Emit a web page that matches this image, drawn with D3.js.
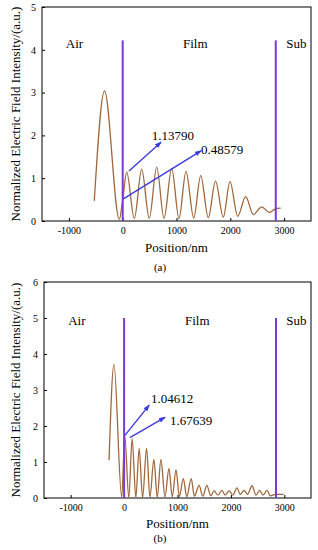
<!DOCTYPE html>
<html>
<head>
<meta charset="utf-8">
<script src="https://cdn.jsdelivr.net/npm/d3@7"></script>
<style>
  body { margin: 0; background: #fff; }
  text { font-family: "Liberation Serif", "Times New Roman", serif; fill: #000; }
</style>
</head>
<body>
<div id="chart"></div>
<script>
// panel (a) field profile, position in nm
const posA = [-528, -338, -63, 0, 74, 216, 353, 494, 632, 768, 911, 1046, 1177, 1320,
    1450, 1591, 1725, 1870, 1994, 2138, 2286, 2428, 2584, 2725, 2831, 2937];
const valA = [0.47, 3.04, 0.04, 0.49, 1.14, 0.06, 1.21, 0.06, 1.26, 0.06, 1.23, 0.06, 1.16, 0.07,
    1.06, 0.08, 0.93, 0.09, 0.92, 0.11, 0.57, 0.15, 0.33, 0.20, 0.28, 0.30];

// panel (b) field profile
const posB = [-282, -190, -45, 13, 88, 150, 220, 282, 346, 421, 483, 558, 620, 690, 765, 840,
    902, 972, 1034, 1109, 1173, 1257, 1316, 1404, 1474, 1549, 1624, 1686, 1756, 1831, 1893,
    1968, 2038, 2113, 2175, 2250, 2312, 2395, 2470, 2538, 2602, 2677, 2739, 2833, 2989];
const valB = [1.05, 3.71, 0.02, 1.72, 0.00, 1.65, 0.01, 1.38, 0.01, 1.38, 0.02, 1.07, 0.02, 1.07, 0.03, 0.82,
    0.03, 0.79, 0.04, 0.54, 0.04, 0.54, 0.05, 0.35, 0.05, 0.35, 0.06, 0.20, 0.08, 0.21, 0.08,
    0.20, 0.08, 0.28, 0.10, 0.21, 0.10, 0.34, 0.08, 0.21, 0.08, 0.21, 0.06, 0.10, 0.10];

const xTicks = [-1000, 0, 1000, 2000, 3000];
const yTicksA = [0, 1, 2, 3, 4, 5];
const yTicksB = [0, 1, 2, 3, 4, 5, 6];
const regions = ['Air', 'Film', 'Sub'];
const interfaces = [0, 2845];
const notesA = ['1.13790', '0.48579'];
const notesB = ['1.04612', '1.67639'];

const width = 318;
const height = 550;
const curveColour = '#a0683c';
const lineColour = '#7a38d8';
const arrowColour = '#3c3ce0';

const svg = d3.select('#chart')
    .append('svg')
        .attr('width', width)
        .attr('height', height);

svg.append('defs').append('marker')
        .attr('id', 'head')
        .attr('markerUnits', 'userSpaceOnUse')
        .attr('markerWidth', 7)
        .attr('markerHeight', 6)
        .attr('refX', 6)
        .attr('refY', 2.5)
        .attr('orient', 'auto')
    .append('path')
        .attr('d', 'M0,0 L7,2.5 L0,5 z')
        .attr('fill', arrowColour);

// panel layout, annotations in data units
const panels = [
    {
        pos: posA, val: valA, yMax: 5, yTicks: yTicksA, notes: notesA,
        box: {left: 42, right: 311, top: 7, bottom: 221},
        lineTop: 4.22, regionY: 4.05,
        regionX: [-896, 1350, 3227],
        arrows: [[117, 1.17, 712, 1.84], [5, 0.51, 1455, 1.64]],
        noteAt: [[539, 1.90], [1455, 1.57]],
        xLabelY: 252, tag: '(a)', tagY: 271, titleY: 114
    },
    {
        pos: posB, val: valB, yMax: 6, yTicks: yTicksB, notes: notesB,
        box: {left: 44, right: 311, top: 282, bottom: 498},
        lineTop: 5.0, regionY: 4.81,
        regionX: [-885, 1370, 3227],
        arrows: [[15, 1.74, 470, 2.58], [107, 1.68, 765, 2.24]],
        noteAt: [[504, 2.65], [859, 2.04]],
        xLabelY: 528, tag: '(b)', tagY: 542, titleY: 390
    }
];

panels.forEach(drawPanel);

function drawPanel(p) {
    const b = p.box;
    const x = d3.scaleLinear()
        .domain([-1500, 3500])
        .range([b.left, b.right]);
    const y = d3.scaleLinear()
        .domain([0, p.yMax])
        .range([b.bottom, b.top]);

    const g = svg.append('g');

    // AXES
    g.append('g')
        .attr('transform', `translate(0,${b.bottom})`)
        .call(d3.axisBottom(x)
            .tickValues(xTicks)
            .tickFormat(d => String(d))
            .tickSizeInner(-3)
            .tickSizeOuter(0)
            .tickPadding(6))
        .call(g => g.select('.domain').remove())
        .call(g => g.selectAll('.tick text')
            .style('font-size', '10px')
            .style('font-family', '"Liberation Serif", serif'));

    g.append('g')
        .attr('transform', `translate(${b.left},0)`)
        .call(d3.axisLeft(y)
            .tickValues(p.yTicks)
            .tickFormat(d => String(d))
            .tickSizeInner(-3)
            .tickSizeOuter(0)
            .tickPadding(6))
        .call(g => g.select('.domain').remove())
        .call(g => g.selectAll('.tick text')
            .style('font-size', '10px')
            .style('font-family', '"Liberation Serif", serif'));

    // frame
    g.append('rect')
        .attr('x', b.left)
        .attr('y', b.top)
        .attr('width', b.right - b.left)
        .attr('height', b.bottom - b.top)
        .attr('fill', 'none')
        .attr('stroke', '#000')
        .attr('stroke-width', 1);

    // curve
    const line = d3.line()
        .curve(d3.curveMonotoneX)
        .x((d, i) => x(p.pos[i]))
        .y(d => y(d));

    g.append('path')
        .datum(p.val)
        .attr('fill', 'none')
        .attr('stroke', curveColour)
        .attr('stroke-width', 1.3)
        .attr('stroke-linejoin', 'round')
        .attr('d', line);

    // interfaces
    g.selectAll('.iface')
        .data(interfaces)
        .join('line')
            .attr('class', 'iface')
            .attr('x1', d => x(d))
            .attr('x2', d => x(d))
            .attr('y1', y(0))
            .attr('y2', y(p.lineTop))
            .attr('stroke', lineColour)
            .attr('stroke-width', 2);

    // region labels
    g.selectAll('.region')
        .data(regions)
        .join('text')
            .attr('class', 'region')
            .attr('x', (d, i) => x(p.regionX[i]))
            .attr('y', y(p.regionY))
            .attr('text-anchor', 'middle')
            .style('font-size', '13px')
            .text(d => d);

    // arrows
    g.selectAll('.arrow')
        .data(p.arrows)
        .join('line')
            .attr('class', 'arrow')
            .attr('x1', d => x(d[0]))
            .attr('y1', d => y(d[1]))
            .attr('x2', d => x(d[2]))
            .attr('y2', d => y(d[3]))
            .attr('stroke', arrowColour)
            .attr('stroke-width', 1.4)
            .attr('marker-end', 'url(#head)');

    g.selectAll('.note')
        .data(p.notes)
        .join('text')
            .attr('class', 'note')
            .attr('x', (d, i) => x(p.noteAt[i][0]))
            .attr('y', (d, i) => y(p.noteAt[i][1]))
            .style('font-size', '13px')
            .text(d => d);

    // axis titles
    g.append('text')
        .attr('x', (b.left + b.right) / 2)
        .attr('y', p.xLabelY)
        .attr('text-anchor', 'middle')
        .style('font-size', '13px')
        .text('Position/nm');

    g.append('text')
        .attr('transform', `translate(20,${p.titleY}) rotate(-90)`)
        .attr('text-anchor', 'middle')
        .style('font-size', '13px')
        .text('Normalized Electric Field Intensity/(a.u.)');

    g.append('text')
        .attr('x', 160)
        .attr('y', p.tagY)
        .attr('text-anchor', 'middle')
        .style('font-size', '11px')
        .text(p.tag);
}
</script>
</body>
</html>
